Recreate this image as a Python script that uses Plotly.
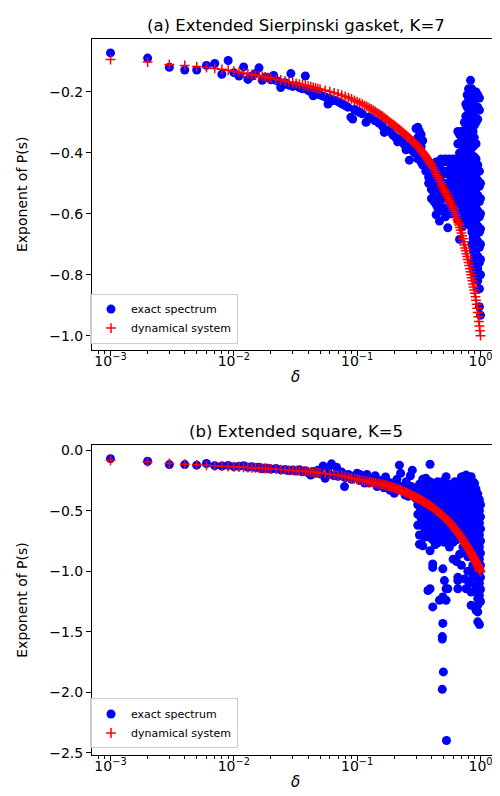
import plotly.graph_objects as go

# ---------------- data ----------------
DELTA_DYN = [0.001, 0.002, 0.003, 0.004, 0.005, 0.006, 0.007, 0.008, 0.009, 0.010,
             0.011, 0.012, 0.013, 0.014, 0.015, 0.016, 0.017, 0.018, 0.019, 0.020,
             0.022, 0.024, 0.026, 0.028, 0.030, 0.032, 0.034, 0.036, 0.038, 0.040,
             0.042, 0.044, 0.046, 0.048, 0.050, 0.055, 0.060, 0.065, 0.070, 0.075,
             0.080, 0.085, 0.090, 0.095, 0.100,
             0.11, 0.12, 0.13, 0.14, 0.15, 0.16, 0.17, 0.18, 0.19, 0.20,
             0.21, 0.22, 0.23, 0.24, 0.25, 0.26, 0.27, 0.28, 0.29, 0.30,
             0.31, 0.32, 0.33, 0.34, 0.35, 0.36, 0.37, 0.38, 0.39, 0.40,
             0.41, 0.42, 0.43, 0.44, 0.45, 0.46, 0.47, 0.48, 0.49, 0.50,
             0.51, 0.52, 0.53, 0.54, 0.55, 0.56, 0.57, 0.58, 0.59, 0.60,
             0.61, 0.62, 0.63, 0.64, 0.65, 0.66, 0.67, 0.68, 0.69, 0.70,
             0.71, 0.72, 0.73, 0.74, 0.75, 0.76, 0.77, 0.78, 0.79, 0.80,
             0.81, 0.82, 0.83, 0.84, 0.85, 0.86, 0.87, 0.88, 0.89, 0.90,
             0.91, 0.92, 0.93, 0.94, 0.95, 0.96, 0.97, 0.98, 0.99, 1.00]

DYN_A = [-0.094, -0.102, -0.110, -0.113, -0.117, -0.120, -0.123, -0.126, -0.129, -0.132,
         -0.135, -0.138, -0.141, -0.143, -0.145, -0.147, -0.149, -0.151, -0.153, -0.155,
         -0.158, -0.161, -0.164, -0.167, -0.170, -0.172, -0.175, -0.177, -0.179, -0.181,
         -0.183, -0.185, -0.187, -0.189, -0.191, -0.195, -0.199, -0.203, -0.207, -0.211,
         -0.215, -0.219, -0.223, -0.228, -0.232,
         -0.240, -0.248, -0.256, -0.264, -0.272, -0.280, -0.288, -0.296, -0.303, -0.310,
         -0.317, -0.324, -0.330, -0.337, -0.343, -0.349, -0.355, -0.361, -0.367, -0.373,
         -0.379, -0.386, -0.392, -0.399, -0.405, -0.412, -0.419, -0.426, -0.433, -0.440,
         -0.447, -0.455, -0.462, -0.470, -0.478, -0.486, -0.494, -0.502, -0.510, -0.517,
         -0.524, -0.530, -0.537, -0.543, -0.550, -0.557, -0.564, -0.571, -0.578, -0.585,
         -0.592, -0.599, -0.606, -0.613, -0.621, -0.629, -0.637, -0.645, -0.654, -0.663,
         -0.672, -0.682, -0.692, -0.702, -0.712, -0.721, -0.731, -0.740, -0.750, -0.760,
         -0.770, -0.780, -0.790, -0.800, -0.810, -0.820, -0.830, -0.840, -0.850, -0.861,
         -0.872, -0.884, -0.897, -0.910, -0.924, -0.938, -0.953, -0.968, -0.984, -1.000]

DYN_B = [-0.082, -0.096, -0.109, -0.115, -0.120, -0.124, -0.128, -0.131, -0.134, -0.136,
         -0.138, -0.140, -0.142, -0.144, -0.146, -0.148, -0.149, -0.151, -0.152, -0.154,
         -0.156, -0.159, -0.161, -0.163, -0.166, -0.168, -0.170, -0.172, -0.174, -0.176,
         -0.178, -0.180, -0.182, -0.185, -0.187, -0.192, -0.197, -0.202, -0.207, -0.212,
         -0.218, -0.224, -0.230, -0.235, -0.240,
         -0.248, -0.256, -0.263, -0.270, -0.276, -0.282, -0.289, -0.296, -0.303, -0.310,
         -0.318, -0.326, -0.334, -0.342, -0.350, -0.358, -0.366, -0.374, -0.382, -0.390,
         -0.397, -0.404, -0.412, -0.420, -0.428, -0.436, -0.443, -0.450, -0.458, -0.466,
         -0.474, -0.482, -0.490, -0.498, -0.506, -0.514, -0.522, -0.530, -0.538, -0.546,
         -0.554, -0.562, -0.570, -0.578, -0.586, -0.595, -0.604, -0.613, -0.622, -0.631,
         -0.640, -0.649, -0.658, -0.667, -0.676, -0.685, -0.694, -0.703, -0.712, -0.721,
         -0.731, -0.741, -0.751, -0.761, -0.771, -0.780, -0.789, -0.798, -0.807, -0.816,
         -0.825, -0.834, -0.843, -0.852, -0.861, -0.870, -0.879, -0.888, -0.897, -0.906,
         -0.915, -0.924, -0.934, -0.944, -0.954, -0.964, -0.974, -0.984, -0.993, -1.003]

# extra dynamical-system points between 0.1 and 0.4 (where the crosses merge)
DELTA_DYN_MID = [0.105, 0.115, 0.125, 0.135, 0.145, 0.155, 0.165, 0.175, 0.185, 0.195,
                 0.205, 0.215, 0.225, 0.235, 0.245, 0.255, 0.265, 0.275, 0.285, 0.295,
                 0.305, 0.315, 0.325, 0.335, 0.345, 0.355, 0.365, 0.375, 0.385, 0.395]
DYN_A_MID = [-0.236, -0.244, -0.252, -0.260, -0.268, -0.276, -0.284, -0.292, -0.300, -0.307,
             -0.314, -0.321, -0.327, -0.334, -0.340, -0.346, -0.352, -0.358, -0.364, -0.370,
             -0.376, -0.383, -0.389, -0.396, -0.402, -0.409, -0.416, -0.423, -0.430, -0.437]
DYN_B_MID = [-0.244, -0.252, -0.260, -0.267, -0.273, -0.279, -0.286, -0.293, -0.300, -0.307,
             -0.314, -0.322, -0.330, -0.338, -0.346, -0.354, -0.362, -0.370, -0.378, -0.386,
             -0.394, -0.401, -0.408, -0.416, -0.424, -0.432, -0.440, -0.447, -0.454, -0.462]

# exact spectrum, panel (a): small-delta part (one value per delta)
EXACT_A_LOW_DELTA = [0.001, 0.002, 0.003, 0.004, 0.005, 0.006, 0.007, 0.008, 0.009, 0.010,
                     0.011, 0.012, 0.013, 0.014, 0.015, 0.016, 0.017, 0.018, 0.019, 0.020,
                     0.021, 0.022, 0.023, 0.024, 0.025, 0.026, 0.027, 0.028, 0.029, 0.030,
                     0.032, 0.034, 0.036, 0.038, 0.040, 0.042, 0.044, 0.046, 0.048, 0.050,
                     0.053, 0.056, 0.058, 0.060, 0.063, 0.066, 0.070, 0.073, 0.076, 0.080,
                     0.084, 0.089, 0.092, 0.095, 0.100, 0.105, 0.110, 0.118, 0.125, 0.130,
                     0.140, 0.150, 0.160, 0.166, 0.175, 0.185, 0.195, 0.205, 0.213, 0.220,
                     0.230, 0.240, 0.249, 0.255, 0.265, 0.270, 0.280, 0.290]
EXACT_A_LOW_VALUE = [-0.072, -0.089, -0.119, -0.128, -0.128, -0.113, -0.107, -0.142, -0.097, -0.137,
                     -0.148, -0.118, -0.159, -0.148, -0.140, -0.121, -0.162, -0.152, -0.154, -0.160,
                     -0.146, -0.162, -0.166, -0.186, -0.172, -0.170, -0.175, -0.178, -0.140, -0.182,
                     -0.180, -0.186, -0.190, -0.148, -0.195, -0.200, -0.213, -0.204, -0.207, -0.210,
                     -0.214, -0.218, -0.240, -0.222, -0.229, -0.228, -0.232, -0.236, -0.240, -0.245,
                     -0.250, -0.283, -0.289, -0.258, -0.262, -0.268, -0.272, -0.300, -0.282, -0.288,
                     -0.295, -0.302, -0.312, -0.333, -0.325, -0.330, -0.342, -0.350, -0.364, -0.355,
                     -0.362, -0.372, -0.390, -0.378, -0.424, -0.385, -0.392, -0.400]

# exact spectrum, panel (a): large-delta cloud, one column of values per delta
EXACT_A_COL_DELTA = [0.30, 0.31, 0.32, 0.33, 0.34, 0.36, 0.38, 0.40, 0.42, 0.437,
                     0.45, 0.465, 0.48, 0.50, 0.52, 0.543, 0.56, 0.58, 0.60, 0.62,
                     0.636, 0.655, 0.676, 0.70, 0.72, 0.74, 0.76, 0.78, 0.80, 0.83,
                     0.85, 0.87, 0.89, 0.92, 0.95, 0.98, 1.00]
EXACT_A_COL_VALUES = [
    [-0.32, -0.36, -0.40],
    [-0.316, -0.35, -0.42],
    [-0.33, -0.37, -0.41],
    [-0.34, -0.38, -0.43],
    [-0.36, -0.44],
    [-0.43, -0.46],
    [-0.44, -0.48, -0.50],
    [-0.45, -0.48, -0.52, -0.55],
    [-0.44, -0.47, -0.50, -0.53, -0.56],
    [-0.43, -0.46, -0.50, -0.54, -0.57, -0.603],
    [-0.43, -0.47, -0.51, -0.55, -0.58],
    [-0.44, -0.48, -0.52, -0.56, -0.59, -0.624],
    [-0.42, -0.46, -0.50, -0.54, -0.58],
    [-0.43, -0.47, -0.51, -0.55, -0.59],
    [-0.42, -0.46, -0.50, -0.54, -0.58, -0.61],
    [-0.43, -0.47, -0.51, -0.55, -0.59, -0.646],
    [-0.42, -0.46, -0.50, -0.54, -0.58],
    [-0.44, -0.48, -0.52, -0.56, -0.60],
    [-0.42, -0.46, -0.50, -0.54, -0.58],
    [-0.43, -0.47, -0.51, -0.55, -0.59],
    [-0.42, -0.46, -0.50, -0.54, -0.60],
    [-0.33, -0.37, -0.44, -0.48, -0.52, -0.56, -0.62],
    [-0.34, -0.40, -0.45, -0.50, -0.55, -0.60, -0.684],
    [-0.33, -0.36, -0.40, -0.43, -0.47, -0.52, -0.57, -0.62],
    [-0.35, -0.39, -0.44, -0.49, -0.54, -0.59, -0.64],
    [-0.30, -0.34, -0.37, -0.42, -0.46, -0.51, -0.56, -0.61],
    [-0.24, -0.28, -0.32, -0.36, -0.39, -0.43, -0.48, -0.53, -0.58, -0.63],
    [-0.21, -0.25, -0.30, -0.34, -0.38, -0.41, -0.45, -0.50, -0.55, -0.60],
    [-0.19, -0.22, -0.27, -0.31, -0.35, -0.38, -0.43, -0.47, -0.52, -0.57, -0.62],
    [-0.162, -0.20, -0.24, -0.29, -0.34, -0.40, -0.44, -0.49, -0.54, -0.59, -0.64],
    [-0.19, -0.23, -0.27, -0.31, -0.36, -0.41, -0.46, -0.51, -0.56, -0.61, -0.66, -0.70],
    [-0.21, -0.25, -0.29, -0.33, -0.38, -0.43, -0.48, -0.53, -0.58, -0.63, -0.68, -0.72, -0.76],
    [-0.20, -0.24, -0.28, -0.31, -0.35, -0.413, -0.45, -0.50, -0.55, -0.60, -0.65, -0.70, -0.74, -0.78],
    [-0.20, -0.22, -0.26, -0.30, -0.37, -0.42, -0.47, -0.52, -0.57, -0.62, -0.67, -0.72, -0.76, -0.80],
    [-0.21, -0.25, -0.29, -0.44, -0.49, -0.54, -0.59, -0.64, -0.69, -0.74, -0.78, -0.82],
    [-0.22, -0.26, -0.46, -0.51, -0.56, -0.61, -0.66, -0.71, -0.76, -0.80, -0.846, -0.905],
    [-0.50, -0.55, -0.60, -0.65, -0.70, -0.75, -0.80, -0.933],
]

# exact spectrum, panel (b): small-delta part
EXACT_B_LOW_DELTA = [0.001, 0.002, 0.003, 0.004, 0.005, 0.006, 0.007, 0.008, 0.009, 0.010,
                     0.011, 0.012, 0.013, 0.014, 0.015, 0.016, 0.017, 0.018, 0.019, 0.020,
                     0.022, 0.024, 0.026, 0.028, 0.030, 0.032, 0.034, 0.036, 0.038, 0.040,
                     0.042, 0.044, 0.046, 0.048, 0.050,
                     0.053, 0.055, 0.058, 0.060, 0.062, 0.065, 0.068, 0.070, 0.075, 0.079,
                     0.080, 0.085, 0.090, 0.095, 0.100,
                     0.105, 0.105, 0.11, 0.115, 0.12, 0.125, 0.13, 0.135, 0.14, 0.145,
                     0.15, 0.155, 0.16, 0.165, 0.17, 0.175, 0.18, 0.185, 0.19, 0.195, 0.20,
                     0.205, 0.21, 0.215, 0.22, 0.225, 0.23, 0.235, 0.24, 0.245, 0.25,
                     0.255, 0.26, 0.265, 0.27, 0.275, 0.28, 0.285, 0.29, 0.295, 0.30]
EXACT_B_LOW_VALUE = [-0.069, -0.090, -0.118, -0.118, -0.123, -0.109, -0.127, -0.130, -0.125, -0.135,
                     -0.132, -0.128, -0.140, -0.136, -0.143, -0.140, -0.152, -0.146, -0.150, -0.155,
                     -0.150, -0.162, -0.158, -0.170, -0.163, -0.172, -0.160, -0.178, -0.168, -0.185,
                     -0.205, -0.176, -0.190, -0.165, -0.195,
                     -0.130, -0.232, -0.150, -0.200, -0.112, -0.210, -0.140, -0.215, -0.180, -0.300,
                     -0.225, -0.200, -0.240, -0.215, -0.190,
                     -0.250, -0.200, -0.235, -0.270, -0.200, -0.270, -0.240, -0.230, -0.210, -0.300,
                     -0.285, -0.250, -0.250, -0.310, -0.220, -0.260, -0.300, -0.330, -0.270, -0.280, -0.355,
                     -0.320, -0.240, -0.290, -0.123, -0.190, -0.300, -0.310, -0.340, -0.370, -0.260,
                     -0.330, -0.380, -0.350, -0.210, -0.300, -0.164, -0.360, -0.320, -0.340, -0.400]

# exact spectrum, panel (b): large-delta cloud
EXACT_B_COL_DELTA = [0.31, 0.32, 0.33, 0.34, 0.35, 0.36, 0.375, 0.39, 0.41, 0.43,
                     0.45, 0.465, 0.48, 0.49, 0.495, 0.50, 0.51, 0.526, 0.53, 0.543,
                     0.56, 0.58, 0.60, 0.62, 0.64, 0.655, 0.676, 0.70, 0.72, 0.742,
                     0.764, 0.79, 0.81, 0.84, 0.866, 0.894, 0.92, 0.95, 0.98, 1.00]
EXACT_B_COL_VALUES = [
    [-0.33, -0.40, -0.45, -0.53, -0.62],
    [-0.28, -0.34, -0.40, -0.46, -0.52, -0.613, -0.70, -0.777],
    [-0.30, -0.37, -0.43, -0.49, -0.56],
    [-0.24, -0.30, -0.35, -0.44, -0.49, -0.53, -0.60, -0.79],
    [-0.27, -0.39, -0.47, -0.55, -0.64, -0.72],
    [-0.23, -0.32, -0.37, -0.42, -0.46, -0.50, -0.58, -0.66],
    [-0.29, -0.36, -0.42, -0.47, -0.55, -0.62, -0.70, -1.159],
    [-0.115, -0.26, -0.33, -0.40, -0.46, -0.52, -0.57, -0.62, -0.72, -0.83, -1.145],
    [-0.30, -0.38, -0.45, -0.50, -0.56, -0.65, -0.74, -0.94, -0.968, -1.295],
    [-0.28, -0.35, -0.42, -0.50, -0.55, -0.60, -0.70, -0.78],
    [-0.26, -0.33, -0.40, -0.46, -0.54, -0.59, -0.64, -0.764],
    [-0.31, -0.38, -0.44, -0.50, -0.58, -0.68, -1.24],
    [-0.30, -0.37, -0.44, -0.50, -0.55, -0.62, -0.72],
    [-1.54, -1.56, -1.976],
    [-0.36, -0.42, -0.48, -0.54, -0.60, -0.70, -0.98, -1.213, -1.431],
    [-1.832],
    [-0.25, -0.32, -0.42, -0.47, -0.52, -0.59, -0.66, -0.76, -1.077],
    [-0.218, -0.28, -0.34, -0.40, -0.46, -0.52, -0.58, -0.64, -0.70, -1.145, -1.24],
    [-2.399],
    [-0.30, -0.35, -0.40, -0.46, -0.52, -0.58, -0.64, -0.74, -1.145],
    [-0.29, -0.35, -0.40, -0.45, -0.50, -0.56, -0.62, -0.68, -0.80],
    [-0.28, -0.34, -0.40, -0.45, -0.50, -0.56, -0.62, -0.72],
    [-0.33, -0.38, -0.44, -0.49, -0.54, -0.60, -0.66, -0.76, -0.90],
    [-0.26, -0.32, -0.38, -0.43, -0.48, -0.53, -0.58, -0.64, -0.70],
    [-0.32, -0.42, -0.52, -0.62, -0.74, -0.92],
    [-0.28, -0.36, -0.47, -0.57, -1.05, -1.077, -1.145],
    [-0.30, -0.40, -0.50, -0.60, -0.68, -0.86],
    [-0.22, -0.34, -0.44, -0.54, -0.64, -0.95],
    [-0.218, -0.30, -0.40, -0.50, -0.60, -0.80],
    [-0.245, -0.35, -0.45, -0.55, -0.66, -0.845, -1.063],
    [-0.205, -0.30, -0.40, -0.50, -0.60, -0.70, -1.145],
    [-0.25, -0.34, -0.44, -0.54, -0.64, -0.88, -1.00],
    [-0.22, -0.32, -0.42, -0.52, -0.62, -0.72, -1.10],
    [-0.218, -0.30, -0.38, -0.48, -0.58, -0.68, -0.78, -1.172, -1.281],
    [-0.26, -0.35, -0.45, -0.55, -0.65, -0.75, -0.95, -1.05],
    [-0.273, -0.36, -0.46, -0.56, -0.66, -0.76, -0.86, -1.00],
    [-0.32, -0.42, -0.52, -0.62, -0.72, -0.82, -0.92, -1.118, -1.17, -1.322],
    [-0.36, -0.46, -0.56, -0.66, -0.76, -0.86, -0.96, -1.06, -1.226, -1.28, -1.336, -1.418],
    [-0.409, -0.50, -0.60, -0.70, -0.80, -0.90, -1.00, -1.10, -1.20, -1.44],
    [-0.45, -0.55, -0.65, -0.75, -0.85, -0.95, -1.05, -1.15, -1.25],
]

TITLE_A = "(a) Extended Sierpinski gasket, K=7"
TITLE_B = "(b) Extended square, K=5"
Y_LABEL = "Exponent of P(s)"
X_LABEL = "<i>δ</i>"
X_TICKS = [0.001, 0.01, 0.1, 1]
X_TICK_TEXT = ["10<sup>−3</sup>", "10<sup>−2</sup>", "10<sup>−1</sup>", "10<sup>0</sup>"]
Y_TICKS_A = [-1.0, -0.8, -0.6, -0.4, -0.2]
Y_TICKS_B = [-2.5, -2.0, -1.5, -1.0, -0.5, 0.0]

assert len(DELTA_DYN) == len(DYN_A) == len(DYN_B)
assert len(DELTA_DYN_MID) == len(DYN_A_MID) == len(DYN_B_MID)
assert len(EXACT_A_LOW_DELTA) == len(EXACT_A_LOW_VALUE)
assert len(EXACT_B_LOW_DELTA) == len(EXACT_B_LOW_VALUE)
assert len(EXACT_A_COL_DELTA) == len(EXACT_A_COL_VALUES)
assert len(EXACT_B_COL_DELTA) == len(EXACT_B_COL_VALUES)


def flatten(col_delta, col_values):
    xs, ys = [], []
    for d, vals in zip(col_delta, col_values):
        for v in vals:
            xs.append(d)
            ys.append(v)
    return xs, ys


ca_x, ca_y = flatten(EXACT_A_COL_DELTA, EXACT_A_COL_VALUES)
cb_x, cb_y = flatten(EXACT_B_COL_DELTA, EXACT_B_COL_VALUES)
exact_a_x = EXACT_A_LOW_DELTA + ca_x
exact_a_y = EXACT_A_LOW_VALUE + ca_y
exact_b_x = EXACT_B_LOW_DELTA + cb_x
exact_b_y = EXACT_B_LOW_VALUE + cb_y
dyn_x = DELTA_DYN + DELTA_DYN_MID
dyn_a = DYN_A + DYN_A_MID
dyn_b = DYN_B + DYN_B_MID

# ---------------- figure ----------------
FONT = "DejaVu Sans"
BLUE = "#0000ff"
RED = "#ff0000"

blue_marker = dict(color=BLUE, size=9, line=dict(width=0))
red_marker = dict(symbol="cross-thin", size=7, color=RED, line=dict(color=RED, width=1.5))

fig = go.Figure()
fig.add_trace(go.Scatter(x=exact_a_x, y=exact_a_y, mode="markers", marker=blue_marker,
                         name="exact spectrum", xaxis="x", yaxis="y", legend="legend"))
fig.add_trace(go.Scatter(x=dyn_x, y=dyn_a, mode="markers", marker=red_marker,
                         name="dynamical system", xaxis="x", yaxis="y", legend="legend"))
fig.add_trace(go.Scatter(x=exact_b_x, y=exact_b_y, mode="markers", marker=blue_marker,
                         name="exact spectrum", xaxis="x2", yaxis="y2", legend="legend2"))
fig.add_trace(go.Scatter(x=dyn_x, y=dyn_b, mode="markers", marker=red_marker,
                         name="dynamical system", xaxis="x2", yaxis="y2", legend="legend2"))

MINOR_X = [m * 10.0 ** e for e in (-4, -3, -2, -1, 0) for m in range(2, 10)]

X_DOMAIN = [0.168, 0.982]
YA_DOMAIN = [0.5700, 0.9648]
YB_DOMAIN = [0.0557, 0.4494]


def xaxis(anchor):
    return dict(
        type="log", range=[-3.15, 0.15], domain=X_DOMAIN, anchor=anchor,
        tickmode="array", tickvals=X_TICKS, ticktext=X_TICK_TEXT,
        ticks="outside", ticklen=5, tickwidth=1, tickcolor="black",
        ticklabelstandoff=-7,
        showline=True, linecolor="black", linewidth=1, mirror=True,
        showgrid=False, zeroline=False,
        minor=dict(ticks="outside", ticklen=3, tickwidth=0.8, tickcolor="black",
                   tickmode="array", tickvals=MINOR_X, showgrid=False),
        tickfont=dict(family=FONT, size=14, color="black"),
        title=dict(text=X_LABEL, font=dict(family=FONT, size=15, color="black"), standoff=3),
    )


def yaxis(anchor, domain, rng, ticks):
    return dict(
        range=rng, domain=domain, anchor=anchor,
        tickmode="array", tickvals=ticks, tickformat=".1f",
        ticks="outside", ticklen=5, tickwidth=1, tickcolor="black",
        showline=True, linecolor="black", linewidth=1, mirror=True,
        showgrid=False, zeroline=False,
        tickfont=dict(family=FONT, size=14, color="black"),
        title=dict(text=Y_LABEL, font=dict(family=FONT, size=14, color="black"), standoff=18),
    )


legend_common = dict(
    xanchor="left", yanchor="bottom", x=0.164,
    bgcolor="rgba(255,255,255,0.8)", bordercolor="#cccccc", borderwidth=1,
    font=dict(family=FONT, size=11, color="black"),
    tracegroupgap=0,
)

fig.update_layout(
    width=500, height=796,
    margin=dict(l=0, r=0, t=0, b=0),
    paper_bgcolor="white", plot_bgcolor="white",
    font=dict(family=FONT, color="black"),
    showlegend=True,
    xaxis=xaxis("y"),
    yaxis=yaxis("x", YA_DOMAIN, [-1.0464, -0.0256], Y_TICKS_A),
    xaxis2=xaxis("y2"),
    yaxis2=yaxis("x2", YB_DOMAIN, [-2.52, 0.045], Y_TICKS_B),
    legend=dict(legend_common, y=0.5779),
    legend2=dict(legend_common, y=0.0641),
    annotations=[
        dict(text=TITLE_A, x=0.575, y=1 - 14.5 / 796, xref="paper", yref="paper",
             showarrow=False, xanchor="center", yanchor="middle",
             font=dict(family=FONT, size=16.5, color="black")),
        dict(text=TITLE_B, x=0.575, y=1 - 424.5 / 796, xref="paper", yref="paper",
             showarrow=False, xanchor="center", yanchor="middle",
             font=dict(family=FONT, size=16.5, color="black")),
    ],
)

fig.write_html("out.html")
